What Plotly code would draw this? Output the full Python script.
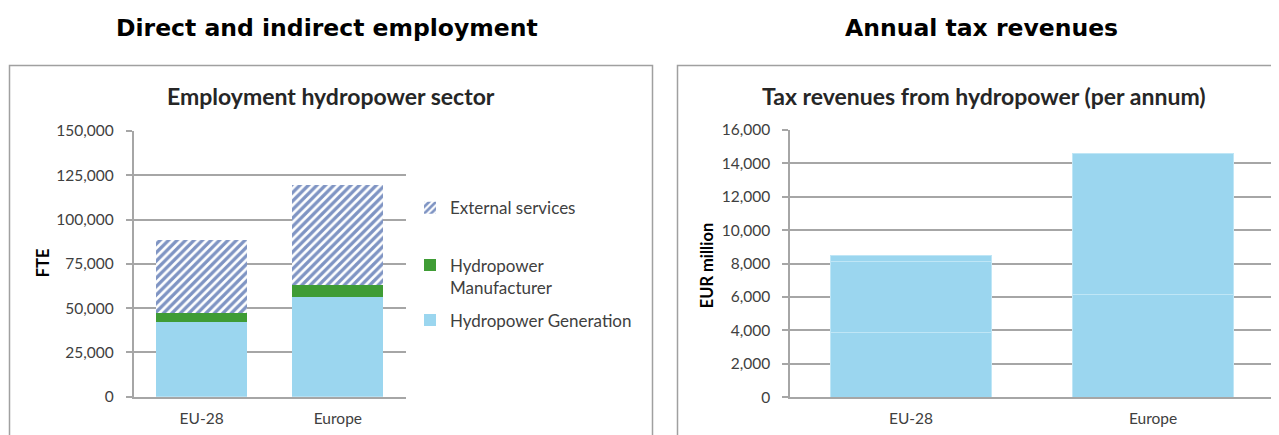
import plotly.graph_objects as go

# data
regions = ["EU-28", "Europe"]
generation = [42000, 56300]
manufacturer = [5000, 6700]
external = [41700, 56700]

tax_regions = ["EU-28", "Europe"]
tax_part_a = [3850, 6150]
tax_part_b = [4250, 8430]
tax_part_c = [400, 0]

W, H = 1279, 435
LIGHT_BLUE = "#9bd6ef"
GREEN = "#3f9c35"
NAVY = "#002a88"
GRID = "#a6a6a6"
TXT = "#404040"
FONT = "Lato"


# page pixel -> paper fraction (corrected for the offset seen in the render)
def px_x(v):
    return (v - 8) / W


def px_y(v):
    return (H - (v - 18.2) / 0.9565) / H


def label(text, x, y, size, color, family=FONT, angle=0):
    return dict(text=text, x=px_x(x), y=px_y(y), xref="paper", yref="paper",
                xanchor="center", yanchor="middle", showarrow=False, textangle=angle,
                font=dict(family=family, size=size, color=color))


fig = go.Figure()

# left chart: stacked employment
fig.add_trace(go.Bar(
    x=regions, y=generation, name="Hydropower Generation",
    marker=dict(color=LIGHT_BLUE, line=dict(width=0)),
    xaxis="x", yaxis="y", legend="legend3", width=0.667,
))
fig.add_trace(go.Bar(
    x=regions, y=manufacturer, name="Hydropower<br>Manufacturer",
    marker=dict(color=GREEN, line=dict(width=0)),
    xaxis="x", yaxis="y", legend="legend2", width=0.667,
))
fig.add_trace(go.Bar(
    x=regions, y=external, name="External services",
    marker=dict(color="white", line=dict(width=0),
                pattern=dict(shape="/", fgcolor=NAVY, bgcolor="white",
                             size=6, solidity=0.55, fillmode="overlay")),
    xaxis="x", yaxis="y", legend="legend", width=0.667,
))

# right chart: tax revenues
for part in (tax_part_a, tax_part_b, tax_part_c):
    fig.add_trace(go.Bar(
        x=tax_regions, y=part, showlegend=False,
        marker=dict(color=LIGHT_BLUE, line=dict(color="#bfe6f6", width=1)),
        xaxis="x2", yaxis="y2", width=0.665,
    ))

axis_common = dict(showgrid=False, showline=True, linecolor=GRID, linewidth=1.5,
                   tickfont=dict(family=FONT, size=15.5, color=TXT), ticks="",
                   ticklabelstandoff=7, fixedrange=True)
yaxis_common = dict(showgrid=True, gridcolor=GRID, gridwidth=1.5, showline=True,
                    linecolor=GRID, linewidth=1.5, ticks="outside", ticklen=6,
                    tickcolor=GRID, tickwidth=1.5, zeroline=False, ticklabelstandoff=9,
                    tickfont=dict(family=FONT, size=15.5, color=TXT), tickformat=",",
                    fixedrange=True)

legend_font = dict(family=FONT, size=17, color=TXT)

fig.update_layout(
    width=W, height=H,
    margin=dict(l=0, r=0, t=0, b=0),
    paper_bgcolor="white", plot_bgcolor="white",
    barmode="stack", bargap=0.33,
    xaxis=dict(domain=[px_x(133.5), px_x(406)], anchor="y", **axis_common),
    yaxis=dict(domain=[px_y(396), px_y(131)], anchor="x", range=[0, 150000],
               dtick=25000, **yaxis_common),
    xaxis2=dict(domain=[px_x(790), px_x(1274)], anchor="y2", **axis_common),
    yaxis2=dict(domain=[px_y(396.5), px_y(130)], anchor="x2", range=[0, 16000],
                dtick=2000, **yaxis_common),
    legend=dict(x=px_x(410), y=px_y(208), xanchor="left", yanchor="middle",
                font=legend_font, bgcolor="rgba(0,0,0,0)"),
    legend2=dict(x=px_x(410), y=px_y(276), xanchor="left", yanchor="middle",
                 valign="top", font=legend_font, bgcolor="rgba(0,0,0,0)"),
    legend3=dict(x=px_x(410), y=px_y(320), xanchor="left", yanchor="middle",
                 font=legend_font, bgcolor="rgba(0,0,0,0)"),
    shapes=[
        dict(type="rect", xref="paper", yref="paper",
             x0=px_x(9.5), x1=px_x(652.5), y0=px_y(445), y1=px_y(65.5),
             line=dict(color="#a0a0a0", width=1.5)),
        dict(type="rect", xref="paper", yref="paper",
             x0=px_x(677.5), x1=px_x(1295), y0=px_y(445), y1=px_y(65.5),
             line=dict(color="#a0a0a0", width=1.5)),
    ],
    annotations=[
        label("<b>Direct and indirect employment</b>", 327, 28, 23.5, "black", "DejaVu Sans"),
        label("<b>Annual tax revenues</b>", 981, 28, 23.5, "black", "DejaVu Sans"),
        label("<b>Employment hydropower sector</b>", 331, 96, 23, "#262626"),
        label("<b>Tax revenues from hydropower (per annum)</b>", 984, 96, 23, "#262626"),
        label("<b>FTE</b>", 43, 263, 16.5, "black", angle=-90),
        label("<b>EUR million</b>", 707, 265, 16.5, "black", angle=-90),
    ],
)

fig.write_html("out.html")
